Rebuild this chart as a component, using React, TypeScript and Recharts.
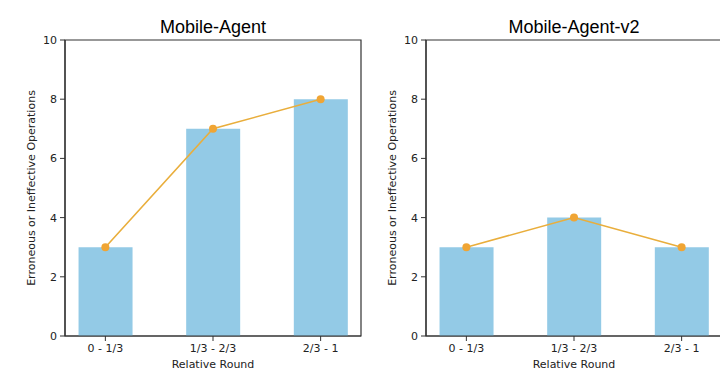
import React from 'react';
import { ComposedChart, Bar, Line, XAxis, YAxis, ReferenceArea } from 'recharts';

const rounds = ['0 - 1/3', '1/3 - 2/3', '2/3 - 1'];
const mobileAgent = [3, 7, 8];
const mobileAgentV2 = [3, 4, 3];
const yTicks = [0, 2, 4, 6, 8, 10];

const tickFont = { fontFamily: 'DejaVu Sans', fontSize: 11, fill: '#222' };

function YLabel({ viewBox }: any) {
  const cy = viewBox.y + viewBox.height / 2;
  return (
    <text x={31} y={cy} transform={`rotate(-90 31 ${cy})`} textAnchor="middle" dominantBaseline="central"
      style={{ fontFamily: 'DejaVu Sans', fontSize: 11, fill: '#222' }}>
      Erroneous or Ineffective Operations
    </text>
  );
}

function XLabel({ viewBox }: any) {
  const cx = viewBox.x + viewBox.width / 2;
  return (
    <text x={cx} y={364} textAnchor="middle" dominantBaseline="central"
      style={{ fontFamily: 'DejaVu Sans', fontSize: 11, fill: '#222' }}>
      Relative Round
    </text>
  );
}

function Panel({ title, values, left }: { title: string; values: number[]; left: number }) {
  const data = values.map((v, i) => ({ x: i, value: v }));
  return (
    <div style={{ position: 'absolute', left, top: 0, width: 365, height: 375 }}>
      <div style={{ position: 'absolute', left: 65, width: 296, top: 15, textAlign: 'center',
        fontFamily: 'Liberation Sans', fontSize: 18, color: '#000', lineHeight: '24px' }}>
        {title}
      </div>
      <ComposedChart width={365} height={375} data={data}
        margin={{ top: 40, right: 4, left: 15, bottom: 0 }}>
        <ReferenceArea x1={-0.375} x2={2.375} y1={0} y2={10} fill="none" stroke="#333" strokeWidth={1.2} />
        <XAxis type="number" dataKey="x" domain={[-0.375, 2.375]} ticks={[0, 1, 2]}
          tickFormatter={(i: number) => rounds[i]} height={39} tickSize={5} tickMargin={3}
          axisLine={{ stroke: '#333', strokeWidth: 1.2 }} tickLine={{ stroke: '#333' }}
          tick={tickFont} interval={0} label={<XLabel />} />
        <YAxis type="number" domain={[0, 10]} ticks={yTicks} width={50} tickSize={5} tickMargin={3}
          axisLine={{ stroke: '#333', strokeWidth: 1.2 }} tickLine={{ stroke: '#333' }}
          tick={tickFont} label={<YLabel />} />
        <Bar dataKey="value" fill="#93CAE6" barSize={54} isAnimationActive={false} />
        <Line dataKey="value" stroke="#E9AE3C" strokeWidth={1.6}
          dot={{ r: 4, fill: '#F0A534', stroke: '#F0A534', strokeWidth: 0 }}
          activeDot={false} isAnimationActive={false} />
      </ComposedChart>
    </div>
  );
}

export default function App() {
  return (
    <div style={{ position: 'absolute', left: 0, top: 0, width: 720, height: 375, overflow: 'hidden', background: '#fff' }}>
      <Panel title="Mobile-Agent" values={mobileAgent} left={0} />
      <Panel title="Mobile-Agent-v2" values={mobileAgentV2} left={361} />
    </div>
  );
}
